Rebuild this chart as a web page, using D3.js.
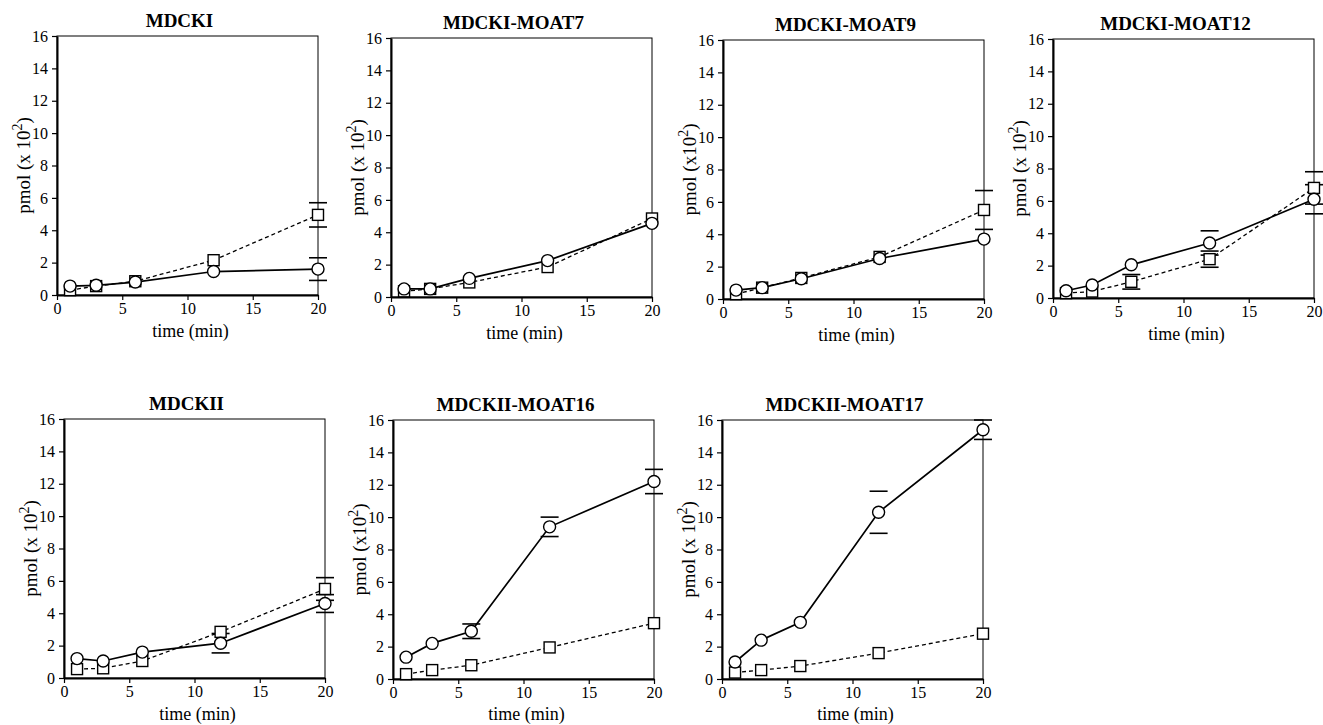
<!DOCTYPE html>
<html>
<head>
<meta charset="utf-8">
<script src="https://cdn.jsdelivr.net/npm/d3@7"></script>
<style>
  body { margin: 0; background: #fff; }
  svg { display: block; }
</style>
</head>
<body>
<svg id="chart" width="1323" height="725"></svg>
<script>
// sampling times (min)
const times = [1, 3, 6, 12, 20]
const xTicks = [0, 5, 10, 15, 20]
const yTicks = [0, 2, 4, 6, 8, 10, 12, 14, 16]

const titles = ['MDCKI', 'MDCKI-MOAT7', 'MDCKI-MOAT9', 'MDCKI-MOAT12',
  'MDCKII', 'MDCKII-MOAT16', 'MDCKII-MOAT17']
const yLabelPrefix = ['pmol (x 10', 'pmol (x 10', 'pmol (x10', 'pmol (x 10',
  'pmol (x 10', 'pmol (x10', 'pmol (x 10']

// open circles, solid line
const circleValues = [
  [0.55, 0.6, 0.8, 1.45, 1.6],
  [0.5, 0.5, 1.15, 2.25, 4.55],
  [0.55, 0.7, 1.25, 2.5, 3.7],
  [0.45, 0.8, 2.05, 3.4, 6.1],
  [1.2, 1.05, 1.6, 2.15, 4.6],
  [1.35, 2.2, 2.95, 9.4, 12.2],
  [1.05, 2.4, 3.5, 10.3, 15.4]
]
const circleErrors = [
  [0, 0, 0, 0, 0.7],
  [0, 0, 0, 0, 0],
  [0, 0, 0, 0, 0],
  [0, 0, 0, 0.75, 0.9],
  [0, 0, 0, 0.6, 0.55],
  [0, 0, 0.45, 0.6, 0.75],
  [0, 0, 0, 1.3, 0.6]
]
// open squares, dashed line
const squareValues = [
  [0.3, 0.55, 0.85, 2.15, 4.95],
  [0.35, 0.5, 0.9, 1.85, 4.85],
  [0.3, 0.7, 1.3, 2.6, 5.5],
  [0.3, 0.4, 1.0, 2.4, 6.8],
  [0.55, 0.6, 1.05, 2.85, 5.5],
  [0.3, 0.55, 0.85, 1.95, 3.45],
  [0.4, 0.55, 0.8, 1.6, 2.8]
]
const squareErrors = [
  [0, 0, 0, 0, 0.75],
  [0, 0, 0, 0, 0],
  [0, 0, 0, 0, 1.2],
  [0, 0, 0.45, 0.5, 1.0],
  [0, 0, 0, 0, 0.7],
  [0, 0, 0, 0, 0],
  [0, 0, 0, 0, 0]
]

// layout of the seven panels
const panelLeft = [57, 391, 723, 1053, 64, 393, 722]
const panelTop = [36, 38, 40, 39, 419, 420, 420]
const plotW = 261
const plotH = 259
const serif = "'Liberation Serif', 'Times New Roman', serif"

const svg = d3.select('#chart')

titles.forEach((title, i) => {
  const g = svg.append('g').attr('transform', `translate(${panelLeft[i]},${panelTop[i]})`)
  const x = d3.scaleLinear().domain([0, 20]).range([0, plotW])
  const y = d3.scaleLinear().domain([0, 16]).range([plotH, 0])

  // thin frame (top and right)
  g.append('rect')
    .attr('width', plotW).attr('height', plotH)
    .attr('fill', 'none').attr('stroke', '#000').attr('stroke-width', 1)

  const yAxis = g.append('g')
    .call(d3.axisLeft(y).tickValues(yTicks).tickSize(5).tickSizeOuter(0).tickPadding(4))
  const xAxis = g.append('g')
    .attr('transform', `translate(0,${plotH})`)
    .call(d3.axisBottom(x).tickValues(xTicks).tickSize(5).tickSizeOuter(0).tickPadding(3))
  for (const ax of [xAxis, yAxis]) {
    ax.attr('font-family', serif).attr('font-size', 16)
    ax.select('.domain').attr('stroke-width', 2)
    ax.selectAll('.tick line').attr('stroke-width', 1.2)
  }

  // title
  g.append('text')
    .attr('x', plotW / 2 - 8).attr('y', -9)
    .attr('text-anchor', 'middle')
    .attr('font-family', serif)
    .attr('font-size', 19).attr('font-weight', 'bold')
    .text(title)

  // x label (kept inside the page at the bottom row)
  g.append('text')
    .attr('x', plotW / 2 + 3).attr('y', Math.min(plotH + 42, 720 - panelTop[i]))
    .attr('text-anchor', 'middle')
    .attr('font-family', serif)
    .attr('font-size', 18)
    .text('time (min)')

  // y label
  const yl = g.append('text')
    .attr('transform', `translate(-33,${plotH / 2}) rotate(-90)`)
    .attr('text-anchor', 'middle')
    .attr('dy', '0.33em')
    .attr('font-family', serif)
    .attr('font-size', 19)
  yl.append('tspan').text(yLabelPrefix[i])
  yl.append('tspan').attr('dy', -8).attr('font-size', 14).text('2')
  yl.append('tspan').attr('dy', 8).text(')')

  const sq = times.map((t, k) => ({ t, v: squareValues[i][k], e: squareErrors[i][k] }))
  const ci = times.map((t, k) => ({ t, v: circleValues[i][k], e: circleErrors[i][k] }))
  const line = d3.line().x(d => x(d.t)).y(d => y(d.v))

  g.append('path').datum(sq)
    .attr('d', line).attr('fill', 'none').attr('stroke', '#000')
    .attr('stroke-width', 1.3).attr('stroke-dasharray', '4,3')
  g.append('path').datum(ci)
    .attr('d', line).attr('fill', 'none').attr('stroke', '#000')
    .attr('stroke-width', 1.7)

  // error bar caps
  const caps = []
  for (const d of sq.concat(ci)) {
    if (d.e > 0) {
      caps.push({ t: d.t, v: d.v + d.e })
      caps.push({ t: d.t, v: d.v - d.e })
    }
  }
  g.selectAll('.cap').data(caps).enter().append('line')
    .attr('class', 'cap')
    .attr('x1', d => x(d.t) - 9).attr('x2', d => x(d.t) + 9)
    .attr('y1', d => y(d.v)).attr('y2', d => y(d.v))
    .attr('stroke', '#000').attr('stroke-width', 1.6)

  g.selectAll('.sq').data(sq).enter().append('rect')
    .attr('class', 'sq')
    .attr('x', d => x(d.t) - 5.5).attr('y', d => y(d.v) - 5.5)
    .attr('width', 11).attr('height', 11)
    .attr('fill', '#fff').attr('stroke', '#000').attr('stroke-width', 1.4)

  g.selectAll('.ci').data(ci).enter().append('circle')
    .attr('class', 'ci')
    .attr('cx', d => x(d.t)).attr('cy', d => y(d.v)).attr('r', 6)
    .attr('fill', '#fff').attr('stroke', '#000').attr('stroke-width', 1.4)
})
</script>
</body>
</html>
